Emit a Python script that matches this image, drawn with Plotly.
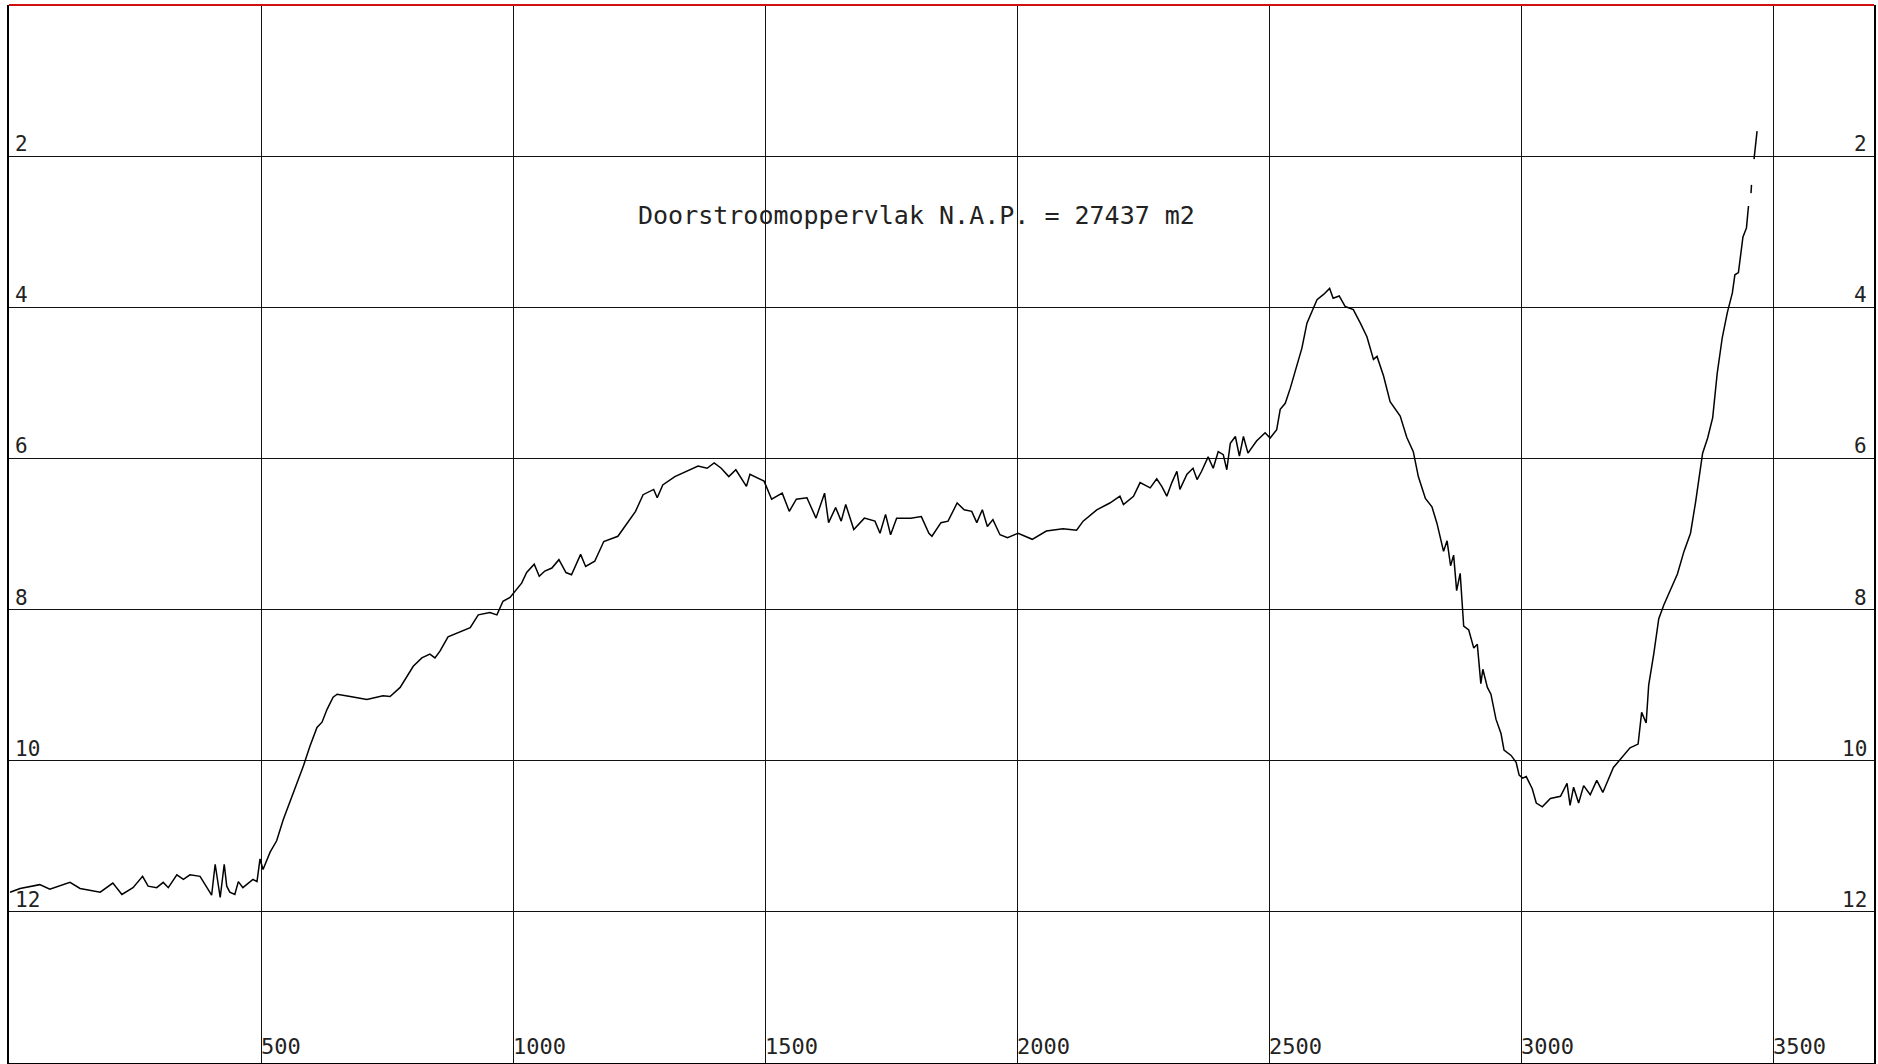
import plotly.graph_objects as go

# Profile: distance along section (m) and depth below N.A.P. (m)
dist = [
    2, 22, 61, 81, 121, 141, 181, 206, 224, 246, 265, 276, 293, 306, 316, 333, 346, 359, 379, 389,
    402, 409, 413, 419, 427, 432, 438, 448, 455, 464, 484, 492, 498, 504, 518, 531, 544, 557, 571, 584,
    597, 611, 621, 631, 643, 651, 677, 710, 742, 756, 776, 790, 802, 819, 835, 845, 855, 871, 895, 915,
    931, 954, 968, 980, 994, 1008, 1017, 1027, 1042, 1052, 1063, 1077, 1091, 1105, 1116, 1134, 1144, 1162, 1180, 1208,
    1222, 1243, 1258, 1279, 1286, 1297, 1321, 1343, 1367, 1385, 1399, 1413, 1428, 1442, 1463, 1470, 1498, 1513, 1534, 1548,
    1562, 1583, 1601, 1618, 1626, 1640, 1651, 1660, 1676, 1697, 1718, 1728, 1739, 1749, 1761, 1789, 1810, 1825, 1831, 1849,
    1863, 1881, 1895, 1910, 1920, 1931, 1941, 1952, 1966, 1981, 2002, 2030, 2058, 2091, 2118, 2131, 2158, 2184, 2204, 2211,
    2231, 2244, 2264, 2277, 2287, 2297, 2307, 2317, 2323, 2337, 2349, 2357, 2366, 2379, 2389, 2399, 2409, 2416, 2423, 2433,
    2441, 2449, 2458, 2475, 2492, 2502, 2515, 2522, 2532, 2542, 2555, 2565, 2575, 2585, 2595, 2608, 2620, 2627, 2639, 2651,
    2667, 2681, 2694, 2707, 2714, 2727, 2740, 2760, 2773, 2786, 2796, 2810, 2823, 2833, 2846, 2853, 2860, 2866, 2872, 2879,
    2886, 2896, 2906, 2913, 2920, 2924, 2933, 2940, 2950, 2960, 2966, 2980, 2990, 2996, 3003, 3010, 3022, 3030, 3042, 3058,
    3078, 3091, 3097, 3104, 3114, 3124, 3137, 3150, 3162, 3183, 3200, 3216, 3232, 3239, 3248, 3253, 3263, 3273, 3283, 3293,
    3310, 3323, 3336, 3346, 3355, 3360, 3370, 3380, 3389, 3399, 3409, 3419, 3424, 3431, 3440, 3447, 3451, 3454,
    3456, 3457, 3459,
    3462, 3468,
]
depth = [
    11.74, 11.69, 11.64, 11.70, 11.61, 11.69, 11.74, 11.62, 11.77, 11.68, 11.53, 11.66, 11.68, 11.61, 11.68, 11.51, 11.57, 11.51, 11.53, 11.64,
    11.78, 11.37, 11.57, 11.81, 11.37, 11.66, 11.74, 11.77, 11.60, 11.68, 11.57, 11.60, 11.30, 11.44, 11.21, 11.06, 10.78, 10.55, 10.29, 10.07,
    9.81, 9.56, 9.49, 9.32, 9.16, 9.12, 9.15, 9.19, 9.14, 9.15, 9.03, 8.88, 8.75, 8.64, 8.59, 8.64, 8.55, 8.36, 8.29, 8.24,
    8.07, 8.04, 8.07, 7.89, 7.84, 7.73, 7.65, 7.51, 7.40, 7.56, 7.49, 7.45, 7.34, 7.51, 7.54, 7.27, 7.43, 7.36, 7.10, 7.03,
    6.90, 6.70, 6.48, 6.41, 6.52, 6.35, 6.24, 6.17, 6.10, 6.13, 6.06, 6.13, 6.24, 6.15, 6.37, 6.21, 6.30, 6.54, 6.46, 6.70,
    6.54, 6.52, 6.79, 6.46, 6.85, 6.65, 6.83, 6.61, 6.94, 6.79, 6.83, 6.99, 6.74, 7.01, 6.79, 6.79, 6.77, 6.99, 7.03, 6.85,
    6.83, 6.59, 6.68, 6.70, 6.85, 6.68, 6.90, 6.81, 7.01, 7.05, 6.99, 7.07, 6.96, 6.93, 6.95, 6.83, 6.68, 6.59, 6.50, 6.61,
    6.50, 6.32, 6.39, 6.27, 6.37, 6.50, 6.32, 6.17, 6.41, 6.21, 6.13, 6.28, 6.17, 5.98, 6.13, 5.91, 5.95, 6.15, 5.80, 5.71,
    5.97, 5.71, 5.93, 5.77, 5.66, 5.73, 5.62, 5.35, 5.27, 5.07, 4.78, 4.54, 4.21, 4.06, 3.90, 3.83, 3.75, 3.88, 3.85, 3.99,
    4.03, 4.21, 4.39, 4.69, 4.65, 4.91, 5.25, 5.44, 5.72, 5.91, 6.24, 6.53, 6.64, 6.86, 7.23, 7.09, 7.42, 7.28, 7.75, 7.52,
    8.22, 8.27, 8.51, 8.46, 8.98, 8.79, 9.03, 9.12, 9.45, 9.64, 9.86, 9.93, 10.02, 10.19, 10.23, 10.21, 10.37, 10.56, 10.61, 10.50,
    10.47, 10.30, 10.59, 10.35, 10.56, 10.33, 10.45, 10.26, 10.42, 10.09, 9.95, 9.83, 9.78, 9.36, 9.50, 9.00, 8.59, 8.12, 7.94, 7.79,
    7.53, 7.23, 6.99, 6.58, 6.17, 5.93, 5.73, 5.46, 4.87, 4.40, 4.07, 3.81, 3.57, 3.54, 3.07, 2.95, 2.66, None,
    2.49, 2.38, None,
    2.04, 1.67,
]

x_ticks = [500, 1000, 1500, 2000, 2500, 3000, 3500]
y_ticks = [2, 4, 6, 8, 10, 12]
title_text = "Doorstroomoppervlak N.A.P. = 27437 m2"

FONT = "DejaVu Sans Mono"
TXT = "#222222"

fig = go.Figure()
fig.add_trace(go.Scatter(
    x=dist, y=depth, mode="lines",
    line=dict(color="black", width=1.5),
    connectgaps=False, hoverinfo="skip", showlegend=False,
))

annotations = []
for v in y_ticks:
    annotations.append(dict(x=0, xref="paper", y=v, yref="y", text=str(v),
                            xanchor="left", yanchor="bottom", xshift=4, yshift=-2,
                            showarrow=False, font=dict(family=FONT, size=21, color=TXT)))
    annotations.append(dict(x=1, xref="paper", y=v, yref="y", text=str(v),
                            xanchor="right", yanchor="bottom", xshift=-5, yshift=-2,
                            showarrow=False, font=dict(family=FONT, size=21, color=TXT)))
for v in x_ticks:
    annotations.append(dict(x=v, xref="x", y=0, yref="paper", text=str(v),
                            xanchor="left", yanchor="bottom", xshift=-2, yshift=2,
                            showarrow=False, font=dict(family=FONT, size=22, color=TXT)))
annotations.append(dict(x=1244, xref="x", y=2.78, yref="y", text=title_text,
                        xanchor="left", yanchor="middle", showarrow=False,
                        font=dict(family=FONT, size=25, color=TXT)))

fig.update_layout(
    width=1878, height=1064,
    margin=dict(l=9, r=4, t=5, b=1),
    paper_bgcolor="white", plot_bgcolor="white",
    xaxis=dict(range=[0, 3700], tickvals=x_ticks, showticklabels=False,
               showgrid=True, gridcolor="#111111", gridwidth=1, zeroline=False,
               showline=True, linecolor="black", linewidth=2, mirror=False, ticks=""),
    yaxis=dict(range=[14, 0], tickvals=y_ticks, showticklabels=False,
               showgrid=True, gridcolor="#111111", gridwidth=1, zeroline=False,
               showline=True, linecolor="black", linewidth=2, mirror=True, ticks=""),
    annotations=annotations,
    shapes=[dict(type="line", xref="paper", yref="paper", x0=0, x1=1, y0=1, y1=1,
                 line=dict(color="#d01010", width=2))],
)

fig.write_html("out.html", config={"displayModeBar": False},
               post_script="document.body.style.margin='0';document.body.style.overflow='hidden';")
